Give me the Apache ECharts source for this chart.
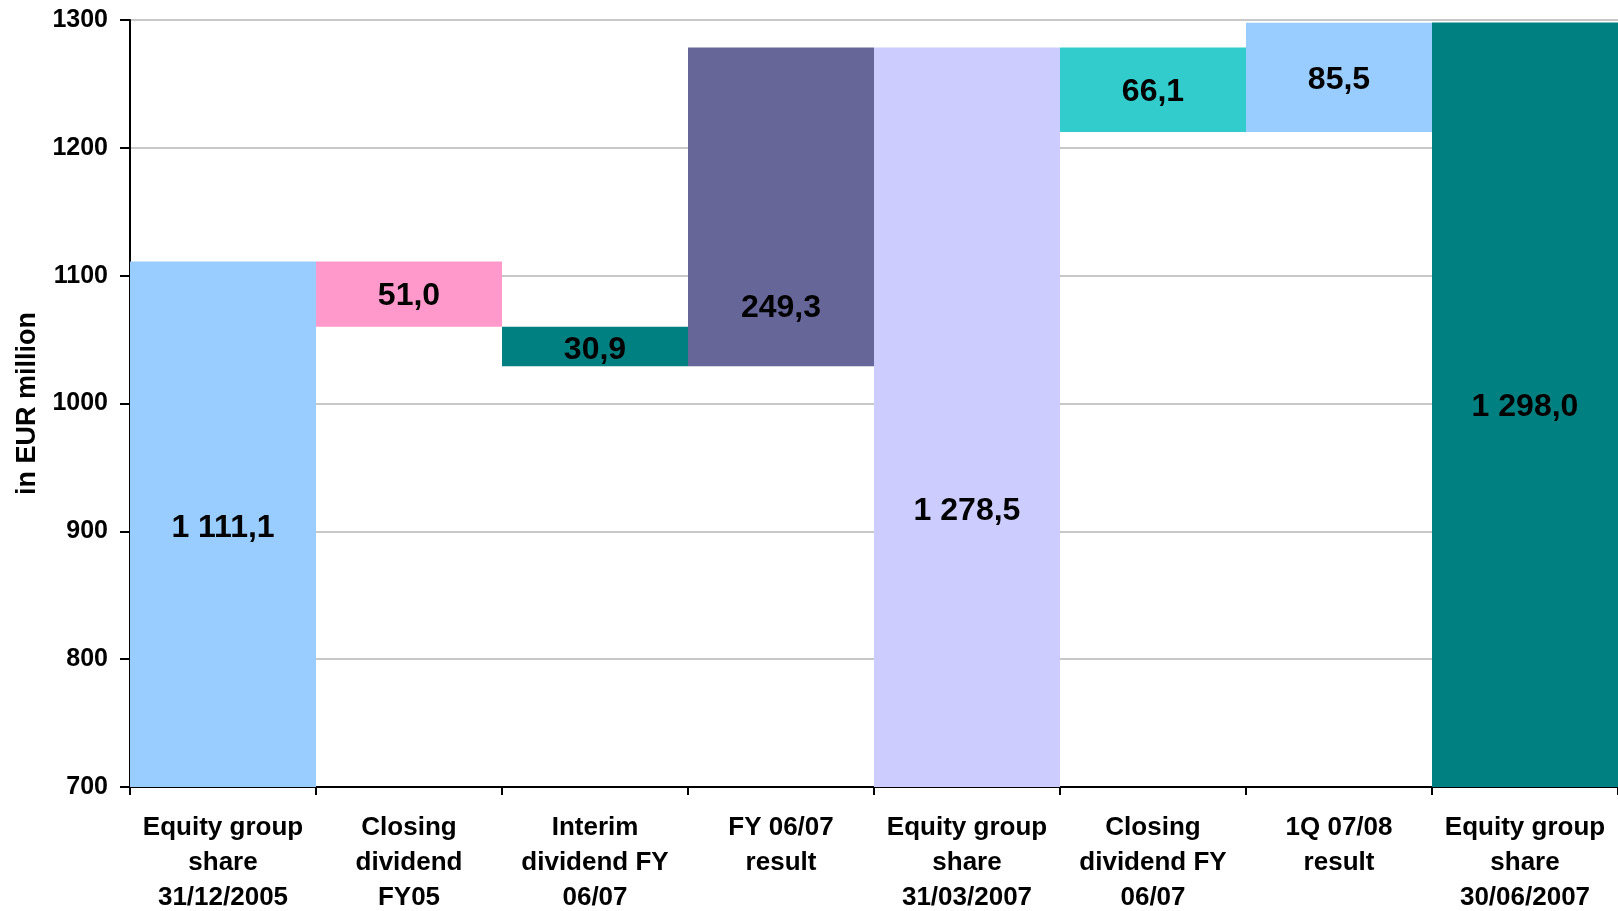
<!DOCTYPE html>
<html lang="en">
<head>
    <meta charset="UTF-8">
    <title>index</title>
    <script src="https://cdn.jsdelivr.net/npm/echarts@6/dist/echarts.min.js"></script>
    <style>
        html, body { margin: 0; padding: 0; background: #fff; }
        #chart { width: 1618px; height: 911px; }
    </style>
</head>
<body>
<div id="chart"></div>
<script>
    // categories (x axis)
    var categories = [
        'Equity group\nshare\n31/12/2005',
        'Closing\ndividend\nFY05',
        'Interim\ndividend FY\n06/07',
        'FY 06/07\nresult',
        'Equity group\nshare\n31/03/2007',
        'Closing\ndividend FY\n06/07',
        '1Q 07/08\nresult',
        'Equity group\nshare\n30/06/2007'
    ];
    // change per step, totals are full values
    var amounts = [1111.1, -51.0, -30.9, 249.3, 1278.5, -66.1, 85.5, 1298.0];
    var isTotal = [true, false, false, false, true, false, false, true];
    var yTicks = { min: 700, max: 1300, interval: 100 };

    var barColors = ['#99CCFF', '#FF99CC', '#008080', '#666699', '#CCCCFF', '#33CCCC', '#99CCFF', '#008080'];
    // label nudges (px), a couple of labels in the original sit low in their bar
    var labelOffsets = [4, 2, 4, 101, 94, 2, 3, 2];

    // build the invisible base + visible part of the waterfall
    var baseData = [], barData = [];
    var running = 0;
    for (var i = 0; i < amounts.length; i++) {
        var v = amounts[i];
        if (isTotal[i]) {
            baseData.push(0);
            barData.push(v);
            running = v;
        } else {
            var next = running + v;
            baseData.push(Math.min(running, next));
            barData.push(Math.abs(v));
            running = next;
        }
    }

    function fmt(n) {
        var s = Math.abs(n).toFixed(1).split('.');
        var intPart = s[0].replace(/\B(?=(\d{3})+(?!\d))/g, ' ');
        return intPart + ',' + s[1];
    }

    var font = '"Liberation Sans", Arial, sans-serif';
    var chart = echarts.init(document.getElementById('chart'));

    var option = {
        animation: false,
        backgroundColor: '#ffffff',
        grid: { left: 130, right: 0, top: 20, bottom: 124, containLabel: false, outerBoundsMode: 'none' },
        xAxis: {
            type: 'category',
            data: categories,
            axisLine: { show: true, lineStyle: { color: '#000', width: 2 } },
            axisTick: { show: true, length: 8, lineStyle: { color: '#000', width: 2 } },
            axisLabel: {
                interval: 0,
                margin: 23,
                color: '#000',
                fontFamily: font,
                fontWeight: 'bold',
                fontSize: 26,
                lineHeight: 35
            }
        },
        yAxis: {
            type: 'value',
            min: yTicks.min,
            max: yTicks.max,
            interval: yTicks.interval,
            name: 'in EUR million',
            nameLocation: 'middle',
            nameRotate: 90,
            nameGap: 89,
            nameTextStyle: { color: '#000', fontFamily: font, fontWeight: 'bold', fontSize: 27 },
            axisLine: { show: true, lineStyle: { color: '#000', width: 2 } },
            axisTick: { show: true, length: 10, lineStyle: { color: '#000', width: 2 } },
            axisLabel: {
                margin: 22,
                color: '#000',
                fontFamily: font,
                fontWeight: 'bold',
                fontSize: 25,
                formatter: function (v) { return String(v); }
            },
            splitLine: { show: true, lineStyle: { color: '#c8c8c8', width: 2 } }
        },
        series: [
            {
                name: 'base',
                type: 'bar',
                stack: 'w',
                barWidth: '100%',
                itemStyle: { color: 'transparent' },
                emphasis: { disabled: true },
                data: baseData
            },
            {
                name: 'value',
                type: 'bar',
                stack: 'w',
                barWidth: '100%',
                data: barData.map(function (v, i) {
                    return {
                        value: v,
                        itemStyle: { color: barColors[i] },
                        label: { offset: [0, labelOffsets[i]] }
                    };
                }),
                label: {
                    show: true,
                    position: 'inside',
                    color: '#000',
                    fontFamily: font,
                    fontWeight: 'bold',
                    fontSize: 32,
                    formatter: function (p) { return fmt(amounts[p.dataIndex]); }
                }
            }
        ]
    };
    chart.setOption(option);
</script>
</body>
</html>
